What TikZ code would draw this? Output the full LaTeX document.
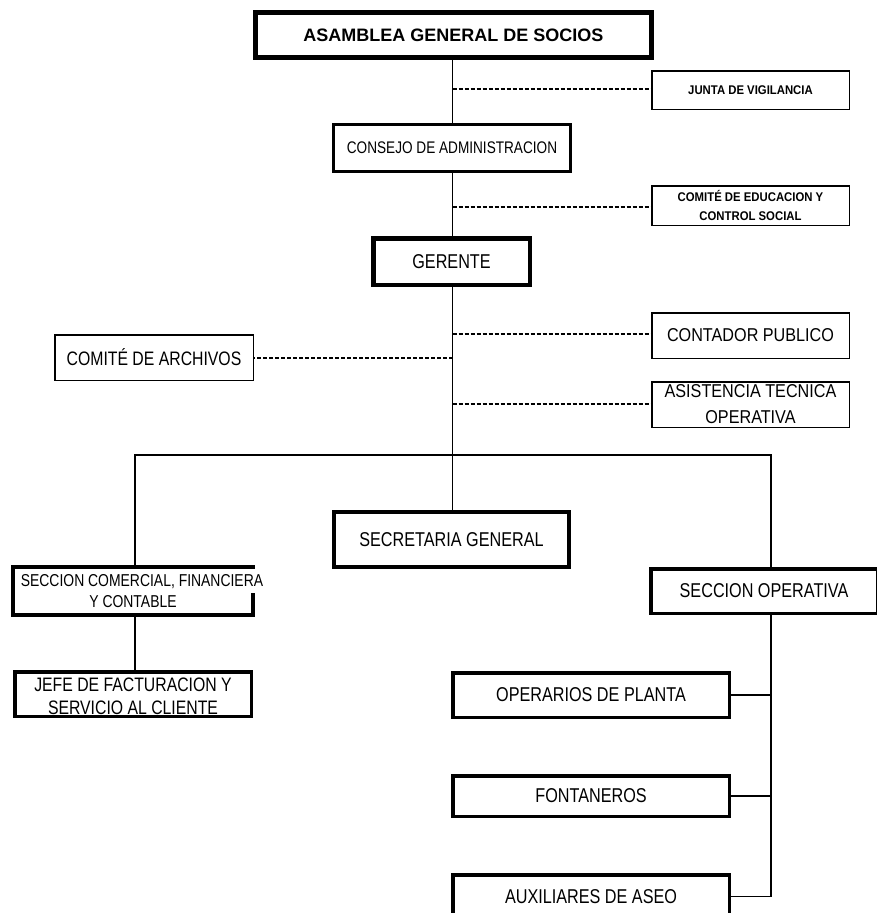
\documentclass[tikz,border=0pt]{standalone}
\usepackage{fontspec}
\setmainfont{Liberation Sans}
\newfontfamily\condA{Liberation Sans}[FakeStretch=0.81]
\newfontfamily\condB{Liberation Sans}[FakeStretch=0.87]
\newfontfamily\condC{Liberation Sans}[FakeStretch=0.9]
\begin{document}
\begin{tikzpicture}[x=1pt,y=-1pt,
  box/.style={draw, fill=white, inner sep=0pt, align=center, line width=#1},
  conn/.style={line width=1.8pt},
  dashline/.style={line width=1.6pt, dash pattern=on 4pt off 2pt},
  fA/.style={font=\condA\fontsize{#1}{22}\selectfont},
  fB/.style={font=\condB\fontsize{#1}{26}\selectfont},
  fC/.style={font=\condC\bfseries\fontsize{12.6}{18.6}\selectfont}]
\useasboundingbox (0,0) rectangle (877,913);
\clip (0,0) rectangle (877,913);
\fill[white] (0,0) rectangle (877,913);

% nodes
\node[box=5pt, minimum width=396pt, minimum height=45pt,
  font=\bfseries\fontsize{18}{22}\selectfont] (asamblea) at (453.5,35) {ASAMBLEA GENERAL DE SOCIOS};
\node[box=1.5pt, minimum width=197.5pt, minimum height=38.5pt, fC] (junta) at (750.5,90) {JUNTA DE VIGILANCIA};
\node[box=3pt, minimum width=237pt, minimum height=47pt, fA=16.8] (consejo) at (452,148) {CONSEJO DE ADMINISTRACION};
\node[box=1.5pt, minimum width=197.5pt, minimum height=39.5pt, fC] (educ) at (750.5,205.5) {COMITÉ DE EDUCACION Y\\CONTROL SOCIAL};
\node[box=4.5pt, minimum width=156.5pt, minimum height=46.5pt, fA=20] (gerente) at (451.5,261.5) {GERENTE};
\node[box=1.5pt, minimum width=197.5pt, minimum height=45.5pt, fB=18.6] (contador) at (750.5,335.5) {CONTADOR PUBLICO};
\node[box=1.5pt, minimum width=198.5pt, minimum height=45.5pt, fA=19.5] (archivos) at (154,357.5) {COMITÉ DE ARCHIVOS};
\node[box=1.5pt, minimum width=197.5pt, minimum height=45.5pt, fB=18.6] (asistencia) at (750.5,404.5) {ASISTENCIA TECNICA\\OPERATIVA};
\node[box=4pt, minimum width=235pt, minimum height=55pt, fA=20] (secretaria) at (451.5,539.5) {SECRETARIA GENERAL};
\node[box=3.5pt, draw=none, minimum width=236.5pt, minimum height=44.5pt,
  font=\condA\fontsize{17.2}{20.5}\selectfont] (comercial) at (133,591)
  {\makebox[200pt][c]{\hspace*{18pt}SECCION COMERCIAL, FINANCIERA}\\Y CONTABLE};
\node[box=3.5pt, minimum width=236.5pt, minimum height=44.5pt,
  font=\condA\fontsize{19.5}{23}\selectfont] (jefe) at (133,694) {\rule{0pt}{19pt}JEFE DE FACTURACION Y\\SERVICIO AL CLIENTE};
\node[box=3.5pt, minimum width=226.5pt, minimum height=44.5pt, fA=20] (operativa) at (764,591) {SECCION OPERATIVA};
\node[box=3.5pt, minimum width=276.5pt, minimum height=44.5pt, fA=20] (operarios) at (591,695) {OPERARIOS DE PLANTA};
\node[box=3.5pt, minimum width=276.5pt, minimum height=40.5pt, fA=20] (fontaneros) at (591,796) {FONTANEROS};
\node[box=3.5pt, minimum width=276.5pt, minimum height=43.5pt, fA=20] (auxiliares) at (591,896.5) {AUXILIARES DE ASEO};

% open border of the comercial box
\draw[line width=3.5pt, line cap=rect]
  ([yshift=20pt]comercial.south east) -- (comercial.south east) -- (comercial.south west)
  -- (comercial.north west) -- (comercial.north east);

% reference coordinates
\coordinate (main) at (452.5,0);
\coordinate (busL) at (135,455);
\coordinate (busR) at (771,455);
\coordinate (dJ) at (452.5,89);
\coordinate (dE) at (452.5,207);
\coordinate (dC) at (452.5,334);
\coordinate (dA) at (452.5,358);
\coordinate (dT) at (452.5,404);

% solid connectors
\draw[conn] (asamblea.south -| main) -- (consejo.north -| main);
\draw[conn] (consejo.south -| main) -- (gerente.north -| main);
\draw[conn] (gerente.south -| main) -- (secretaria.north -| main);
\draw[conn] (busL |- comercial.north) -- (busL) -- (busR) -- (busR |- operativa.north);
\draw[conn] (busL |- comercial.south) -- (busL |- jefe.north);
\draw[conn] (busR |- operativa.south) |- (auxiliares.east);
\draw[conn] (operarios.east) -- (operarios.east -| busR);
\draw[conn] (fontaneros.east) -- (fontaneros.east -| busR);

% dashed connectors
\draw[dashline] (dJ) -- (junta.west |- dJ);
\draw[dashline] (dE) -- (educ.west |- dE);
\draw[dashline] (dC) -- (contador.west |- dC);
\draw[dashline] (dA) -- (archivos.east |- dA);
\draw[dashline] (dT) -- (asistencia.west |- dT);
\end{tikzpicture}
\end{document}
